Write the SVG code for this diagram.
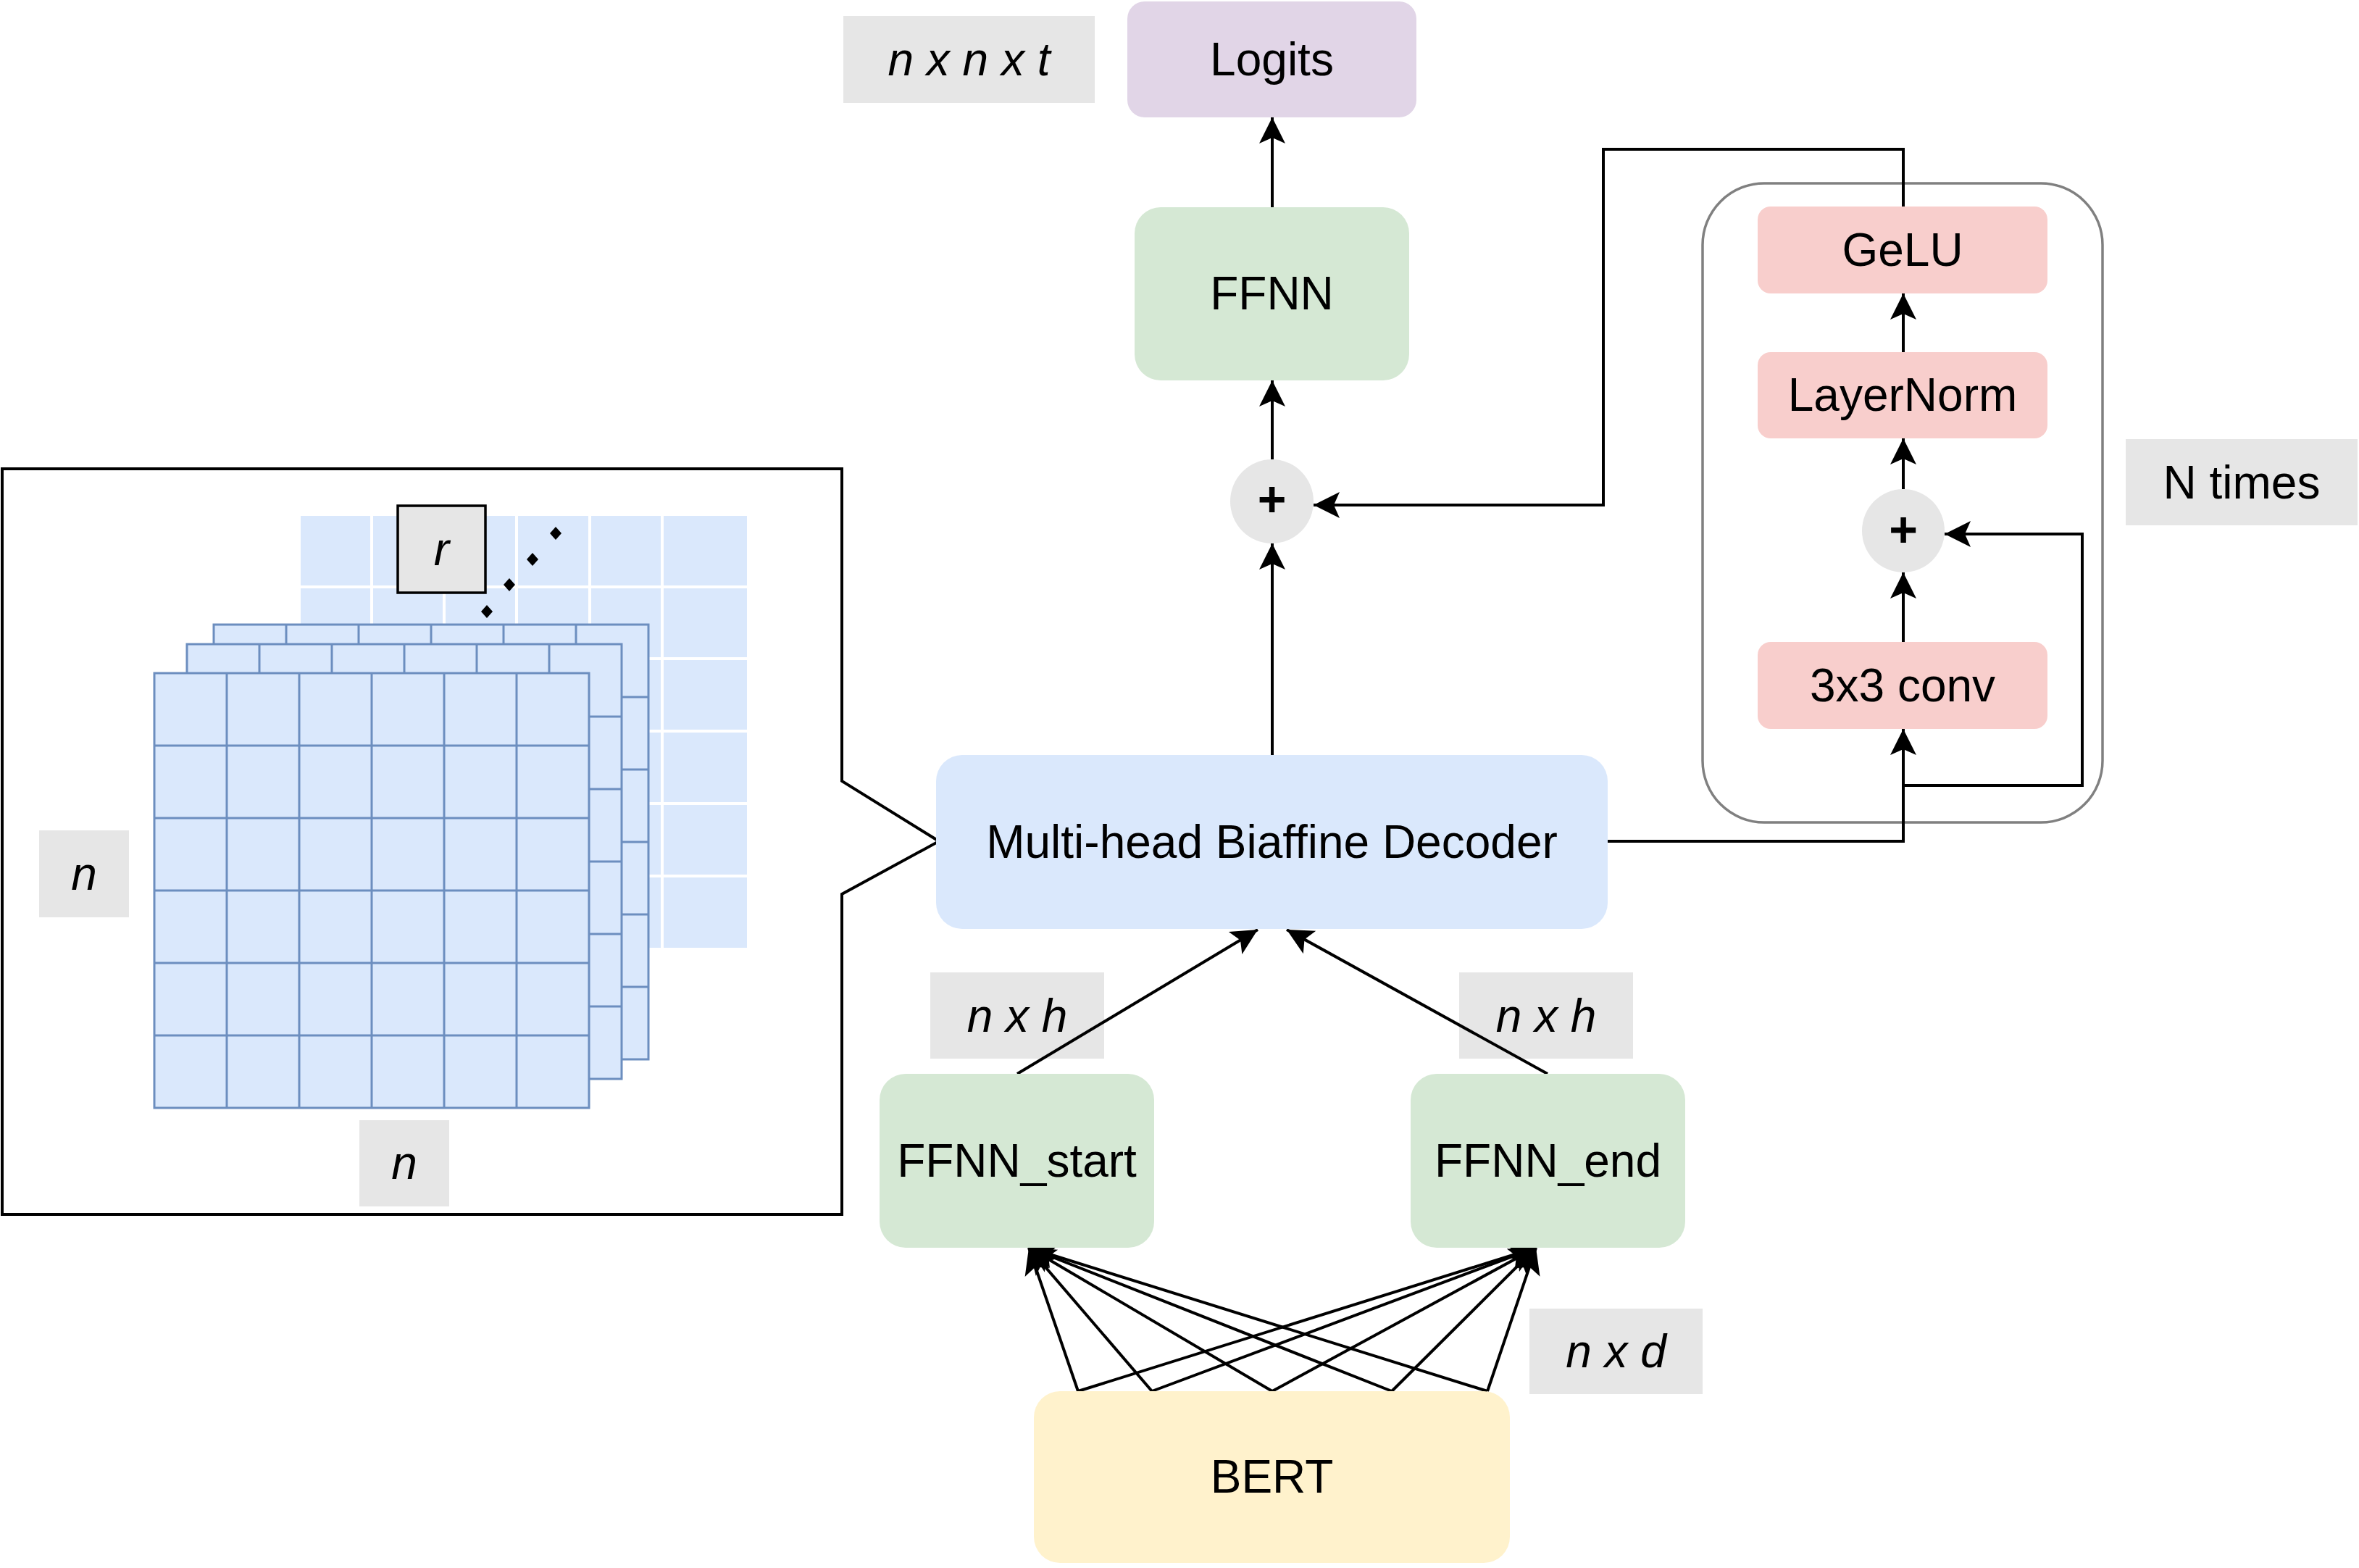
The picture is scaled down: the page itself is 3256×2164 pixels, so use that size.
<svg xmlns="http://www.w3.org/2000/svg" xmlns:xlink="http://www.w3.org/1999/xlink" width="3256" height="2164" viewBox="0 0 3256 2164">
<style>
text{font-family:"Liberation Sans",Arial,Helvetica,sans-serif;font-size:64px;fill:#000;text-anchor:middle}
.it{font-style:italic}
.plus{font-weight:bold;font-size:68px}
.lbl{fill:#e6e6e6;stroke:none}
.edge{fill:none;stroke:#000;stroke-width:4}
.arrow{marker-end:url(#arr)}
.cell{fill:#dae8fc;stroke:#6c8ebf;stroke-width:3}
</style>
<defs>
<marker id="arr" markerUnits="userSpaceOnUse" markerWidth="40" markerHeight="40" viewBox="-2 -20 40 40" refX="36" refY="0" orient="auto" overflow="visible">
<path d="M36,0 L0,-18 L8,0 L0,18 Z" fill="#000"/>
</marker>
<g id="grid">
<rect class="cell" x="0" y="0" width="600" height="600"/>
<path d="M100,0V600M200,0V600M300,0V600M400,0V600M500,0V600M0,100H600M0,200H600M0,300H600M0,400H600M0,500H600" fill="none" stroke="#6c8ebf" stroke-width="3"/>
</g>
</defs>
<rect x="0" y="0" width="3256" height="2164" fill="#fff"/>

<g id="matrix-panel">
<path d="M3,647 H1162 V1078 L1296,1161 L1162,1234 V1676 H3 Z" fill="#fff" stroke="#000" stroke-width="4"/>
<rect x="415" y="712" width="616" height="596" fill="#dae8fc"/>
<path d="M513,712V1308M613,712V1308M713,712V1308M814,712V1308M914,712V1308M415,810H1031M415,909H1031M415,1009H1031M415,1109H1031M415,1209H1031" stroke="#fff" stroke-width="4" fill="none"/>
<g id="r-label">
<rect x="549" y="698" width="121" height="120" fill="#e6e6e6" stroke="#000" stroke-width="3.5"/>
<text class="it" x="609.5" y="780">r</text>
</g>
<g fill="#000">
<polygon points="672,835 680,844 672,853 664,844"/>
<polygon points="703,798 711,807 703,816 695,807"/>
<polygon points="735,763 743,772 735,781 727,772"/>
<polygon points="767,727 775,736 767,745 759,736"/>
</g>
<use xlink:href="#grid" href="#grid" x="295" y="862"/>
<use xlink:href="#grid" href="#grid" x="258" y="889"/>
<use xlink:href="#grid" href="#grid" x="213" y="929"/>
<g id="label-n-left"><rect class="lbl" x="54" y="1146" width="124" height="120"/><text class="it" x="116" y="1228">n</text></g>
<g id="label-n-bottom"><rect class="lbl" x="496" y="1546" width="124" height="119"/><text class="it" x="558" y="1627">n</text></g>
</g>

<g id="repeat-container">
<rect x="2350" y="253" width="552" height="882" rx="85" ry="85" fill="none" stroke="#808080" stroke-width="3.5"/>
</g>

<g id="label-nxnxt"><rect class="lbl" x="1164" y="22" width="347" height="120"/><text class="it" x="1337.5" y="104">n x n x t</text></g>
<g id="label-nxh-left"><rect class="lbl" x="1284" y="1342" width="240" height="119"/><text class="it" x="1404" y="1424">n x h</text></g>
<g id="label-nxh-right"><rect class="lbl" x="2014" y="1342" width="240" height="119"/><text class="it" x="2134" y="1424">n x h</text></g>
<g id="label-nxd"><rect class="lbl" x="2111" y="1806" width="239" height="118"/><text class="it" x="2230.5" y="1887">n x d</text></g>
<g id="label-ntimes"><rect class="lbl" x="2934" y="606" width="320" height="119"/><text x="3094" y="688">N times</text></g>

<g id="connectors">
<path class="edge arrow" d="M1756,286 V162"/>
<path class="edge arrow" d="M1756,634 V525"/>
<path class="edge arrow" d="M1756,1042 V750"/>
<path class="edge arrow" d="M2627,285 V206 H2213 V697 H1813"/>
<path class="edge arrow" d="M2627,486 V405"/>
<path class="edge arrow" d="M2627,675 V605"/>
<path class="edge arrow" d="M2627,886 V790"/>
<path class="edge arrow" d="M2219,1161 H2627 V1006"/>
<path class="edge arrow" d="M2627,1084 H2874 V737 H2684"/>
<path class="edge arrow" d="M1404,1482 L1736,1283"/>
<path class="edge arrow" d="M2136,1482 L1776,1283"/>
<path class="edge arrow" d="M1488,1920 L1420,1722"/>
<path class="edge arrow" d="M1590,1920 L1420,1722"/>
<path class="edge arrow" d="M1756,1920 L1420,1722"/>
<path class="edge arrow" d="M1921,1920 L1420,1722"/>
<path class="edge arrow" d="M2053,1920 L1420,1722"/>
<path class="edge arrow" d="M1488,1920 L2120,1722"/>
<path class="edge arrow" d="M1590,1920 L2120,1722"/>
<path class="edge arrow" d="M1756,1920 L2120,1722"/>
<path class="edge arrow" d="M1921,1920 L2120,1722"/>
<path class="edge arrow" d="M2053,1920 L2120,1722"/>
</g>

<g id="logits"><rect x="1556" y="2" width="399" height="160" rx="24" fill="#e1d5e7"/><text x="1755.5" y="104">Logits</text></g>
<g id="ffnn"><rect x="1566" y="286" width="379" height="239" rx="36" fill="#d5e8d4"/><text x="1755.5" y="427">FFNN</text></g>
<g id="plus-main"><ellipse cx="1755.5" cy="692" rx="57.5" ry="58" fill="#e6e6e6"/><text class="plus" x="1755.5" y="712">+</text></g>
<g id="decoder"><rect x="1292" y="1042" width="927" height="240" rx="36" fill="#dae8fc"/><text x="1755.5" y="1184">Multi-head Biaffine Decoder</text></g>
<g id="ffnn-start"><rect x="1214" y="1482" width="379" height="240" rx="36" fill="#d5e8d4"/><text x="1403.5" y="1624">FFNN_start</text></g>
<g id="ffnn-end"><rect x="1947" y="1482" width="379" height="240" rx="36" fill="#d5e8d4"/><text x="2136.5" y="1624">FFNN_end</text></g>
<g id="bert"><rect x="1427" y="1920" width="657" height="237" rx="36" fill="#fff2cc"/><text x="1755.5" y="2060">BERT</text></g>
<g id="gelu"><rect x="2426" y="285" width="400" height="120" rx="18" fill="#f8cecc"/><text x="2626" y="367">GeLU</text></g>
<g id="layernorm"><rect x="2426" y="486" width="400" height="119" rx="18" fill="#f8cecc"/><text x="2626" y="567">LayerNorm</text></g>
<g id="plus-block"><ellipse cx="2627" cy="732.5" rx="57" ry="57.5" fill="#e6e6e6"/><text class="plus" x="2627" y="754">+</text></g>
<g id="conv"><rect x="2426" y="886" width="400" height="120" rx="18" fill="#f8cecc"/><text x="2626" y="968">3x3 conv</text></g>
</svg>
